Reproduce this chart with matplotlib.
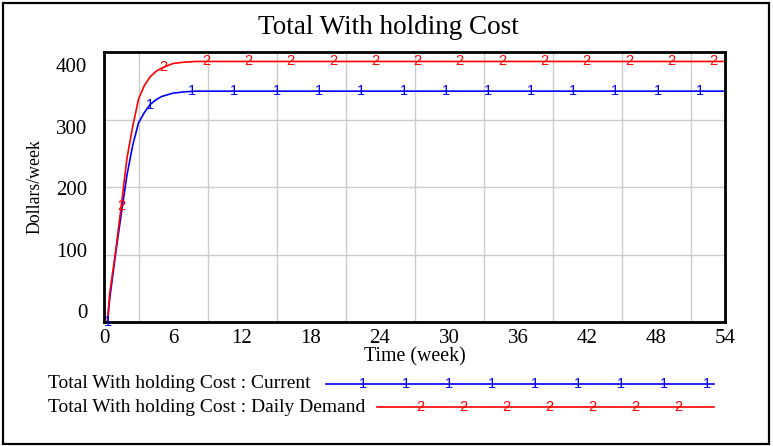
import numpy as np
from matplotlib import pyplot as plt
from matplotlib.lines import Line2D
from matplotlib.patches import Rectangle

# Data (weeks, dollars/week).
time = [0, 0.3, 0.5, 1, 1.5, 2, 2.5, 3, 3.5, 4, 4.5, 5, 6, 7, 8, 54]
current = [0, 0, 35, 100, 160, 218, 262, 295, 310, 322, 329, 334, 339, 341, 342, 342]
daily_demand = [0, 0, 43, 103, 172, 243, 290, 330, 350, 363, 371, 376, 383, 385, 386, 386]

x_ticks = [0, 6, 12, 18, 24, 30, 36, 42, 48, 54]
y_labels = ["0", "100", "200", "300", "400"]

serif = "Liberation Serif"
sans = "Liberation Sans"

fig = plt.figure(figsize=(7.73, 4.46), dpi=100)
W, H = 773, 446

# Outer frame.
fig.patches.append(Rectangle((3 / W, 2 / H), 766 / W, 441 / H, transform=fig.transFigure,
                             fill=False, edgecolor="black", linewidth=1.6))

ax = fig.add_axes([104 / W, 1 - 322 / H, 621 / W, 270 / H])
ax.plot(time, current, c="blue", linewidth=1.2, clip_on=False)
ax.plot(time, daily_demand, c="red", linewidth=1.2, clip_on=False)

# Vensim-style numbered markers along the lines.
for t in np.arange(0.3, 54, 3.68):
    ax.text(t, np.interp(t, time, current), "1", color="blue", fontsize=10.5,
            family=sans, ha="center", va="center")
for t in np.arange(1.5, 54, 3.68):
    ax.text(t, np.interp(t, time, daily_demand), "2", color="red", fontsize=10.5,
            family=sans, ha="center", va="center")

ax.set_xlim(0, 54)
ax.set_ylim(0, 400)

ax.set_xticks(x_ticks)
ax.set_xticklabels([str(v) for v in x_ticks], family=serif, fontsize=15)
ax.set_xticks(np.arange(0, 55, 3), minor=True)
# y labels sit inside the axis span like in Vensim; grid stays at real values.
ax.set_yticks([16, 107, 198, 289, 381])
ax.set_yticklabels(y_labels, family=serif, fontsize=15)
ax.set_yticks([100, 200, 300], minor=True)
ax.tick_params(axis="both", which="both", length=0)
ax.tick_params(axis="x", pad=5)
ax.tick_params(axis="y", pad=12)
ax.grid(True, which="minor", color="#cccccc", linewidth=1)
ax.set_axisbelow(True)
for s in ax.spines.values():
    s.set_linewidth(2)

fig.text(388 / W, 1 - 28 / H, "Total With holding Cost", family=serif, fontsize=19.5,
         ha="center", va="center")
fig.text(415 / W, 1 - 357 / H, "Time (week)", family=serif, fontsize=14.3,
         ha="center", va="center")
fig.text(35 / W, 1 - 187 / H, "Dollars/week", family=serif, fontsize=12.8,
         ha="center", va="center", rotation=90)

# Legend drawn by hand.
legend_rows = [("Total With holding Cost : Current", "blue", "1", 384, 326, 363, 9),
               ("Total With holding Cost : Daily Demand", "red", "2", 407, 377, 420, 7)]
for label, color, tag, y, x0, m0, n in legend_rows:
    fig.text(48 / W, 1 - y / H, label, family=serif, fontsize=14, ha="left", va="center")
    fig.lines.append(Line2D([x0 / W, 714 / W], [1 - y / H, 1 - y / H],
                            transform=fig.transFigure, color=color, linewidth=1.2))
    for k in range(n):
        fig.text((m0 + 43 * k) / W, 1 - y / H, tag, color=color, fontsize=10.5,
                 family=sans, ha="center", va="center")

plt.savefig("out.png", dpi=100)
